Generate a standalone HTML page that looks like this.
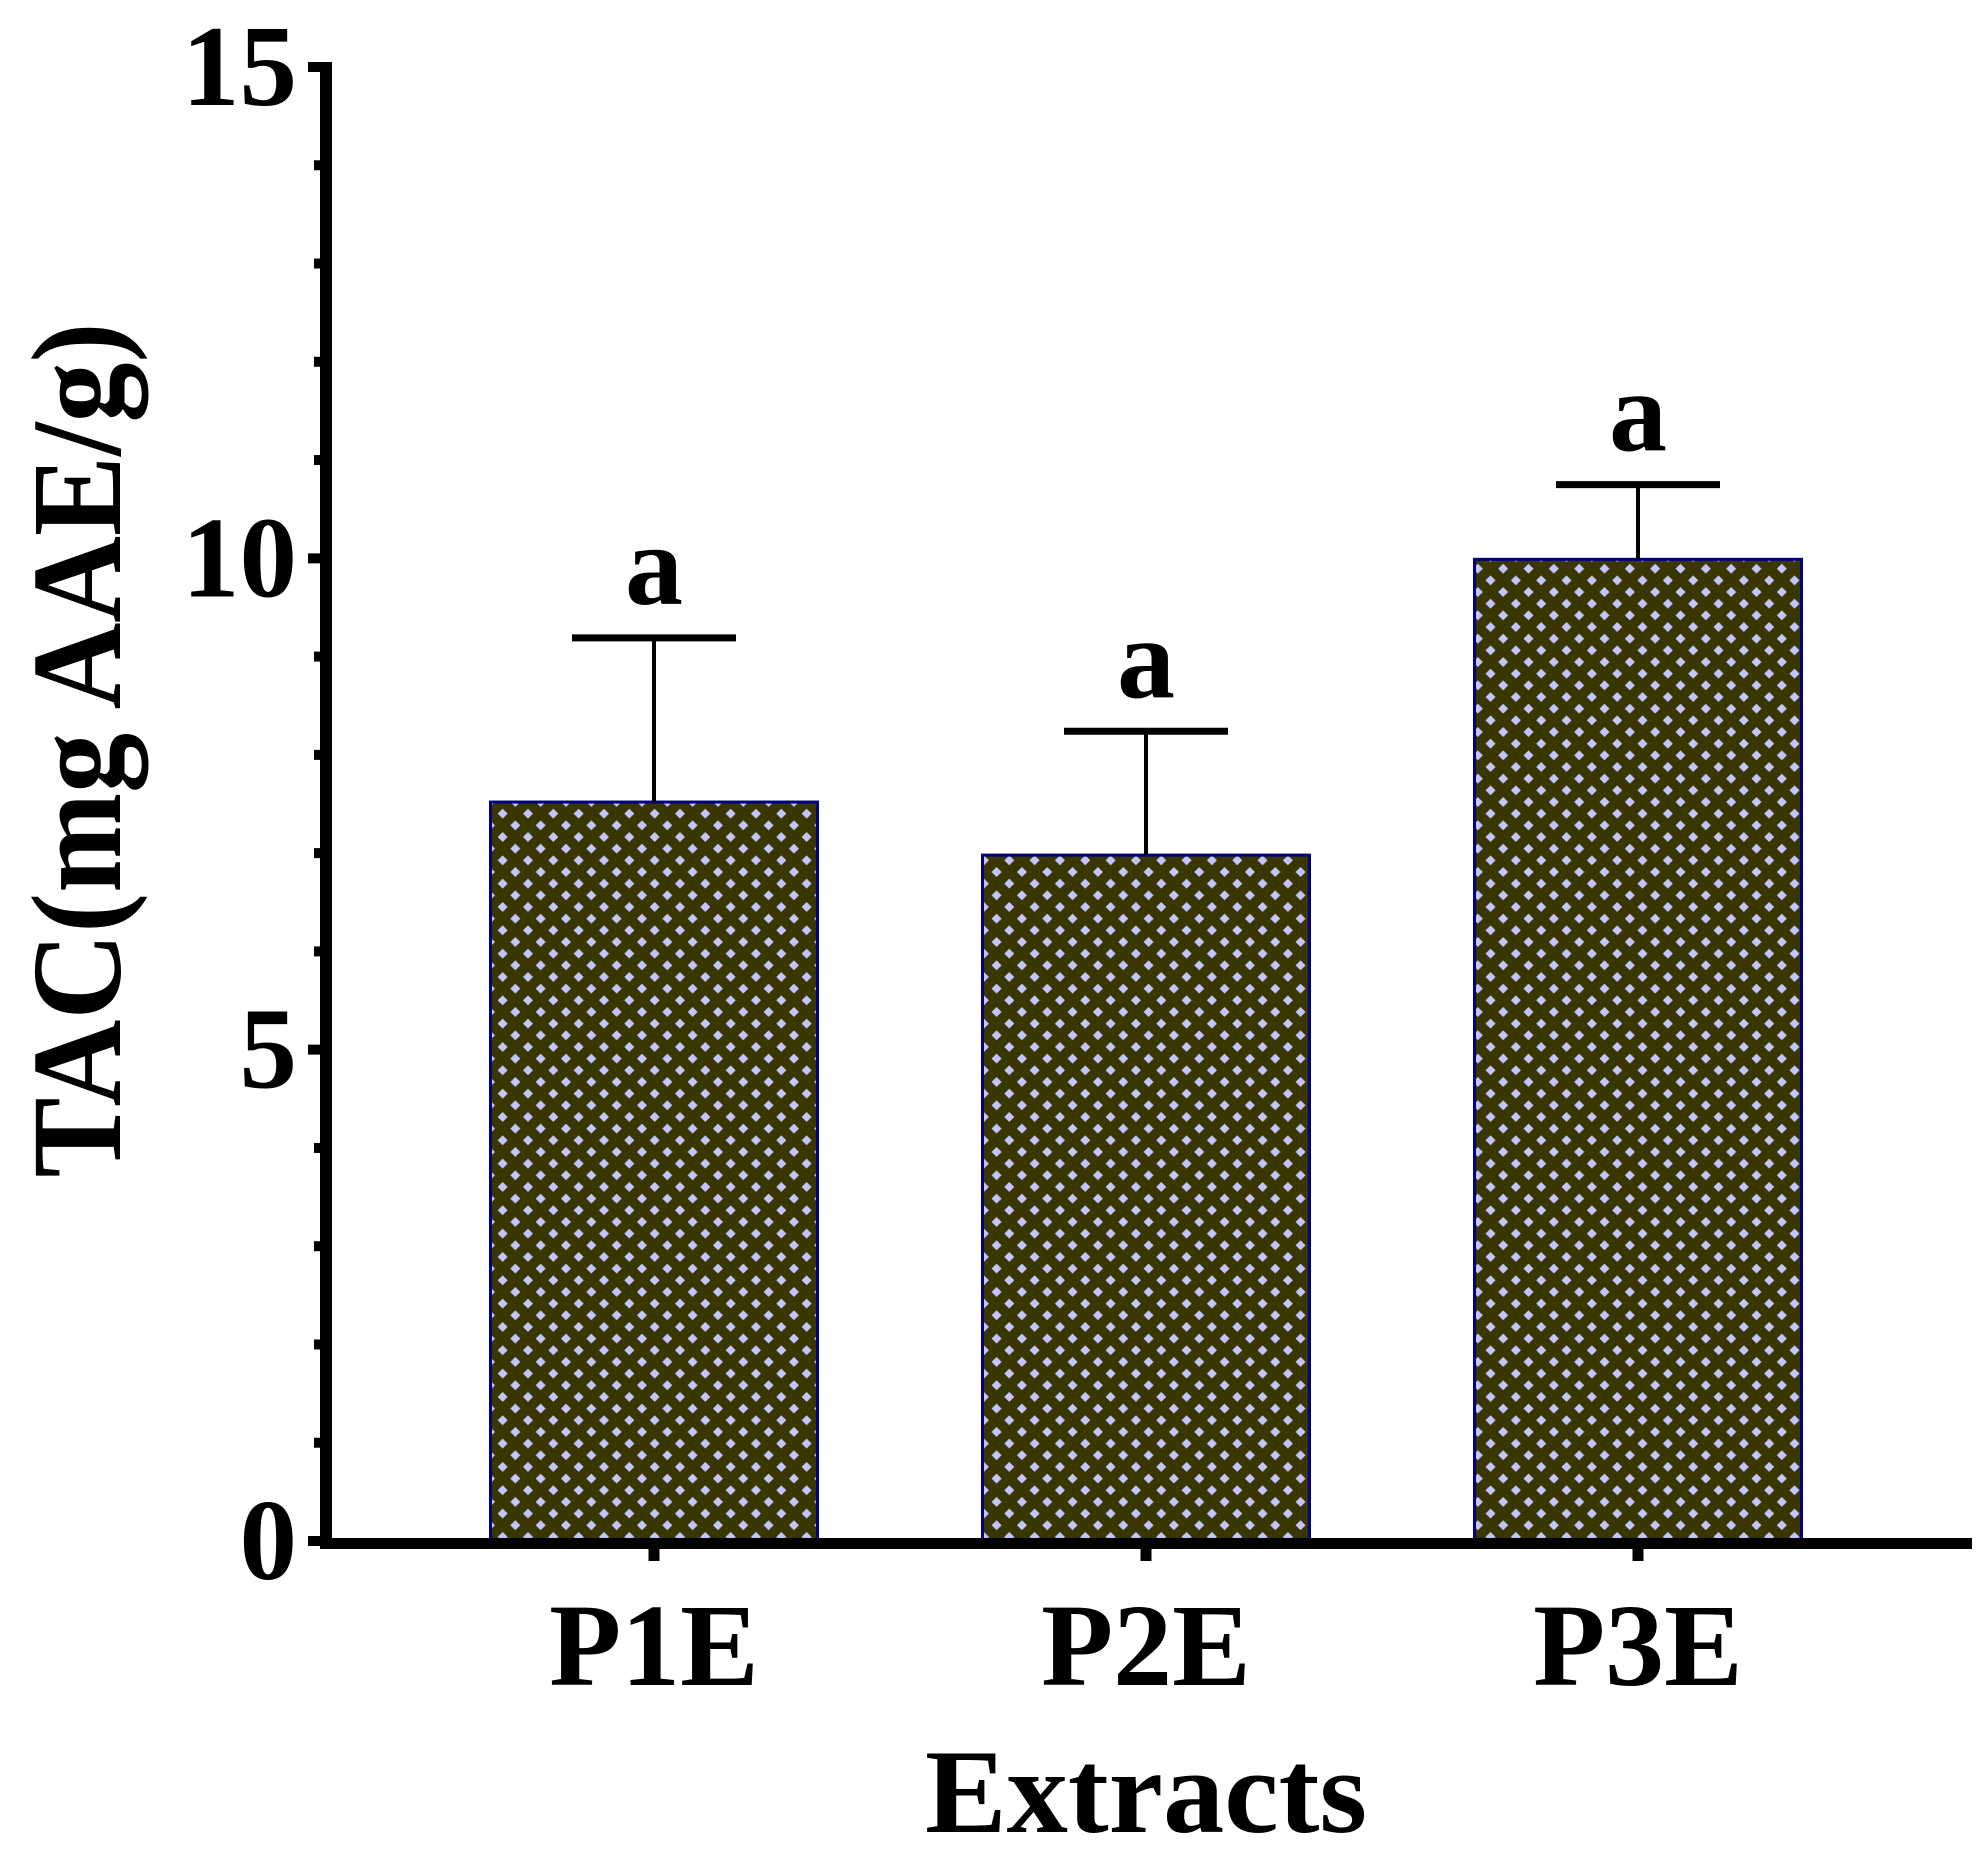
<!DOCTYPE html>
<html><head><meta charset="utf-8"><style>
html,body{margin:0;padding:0;background:#fff;}
svg{display:block;font-family:"Liberation Serif",serif;font-weight:bold;}
</style></head><body>
<svg id="chart" width="1987" height="1864" viewBox="0 0 1987 1864" xmlns="http://www.w3.org/2000/svg">
<defs>
<pattern id="diamonds" patternUnits="userSpaceOnUse" width="25.33" height="23.33" x="490" y="802">
<rect width="25.33" height="23.33" fill="#3a3600"/>
<g fill="#c4c4ff">
<polygon points="0,-5 5,0 0,5 -5,0"/>
<polygon points="25.33,-5 30.33,0 25.33,5 20.33,0"/>
<polygon points="0,18.33 5,23.33 0,28.33 -5,23.33"/>
<polygon points="25.33,18.33 30.33,23.33 25.33,28.33 20.33,23.33"/>
<polygon points="12.67,6.67 17.67,11.67 12.67,16.67 7.67,11.67"/>
</g>
</pattern>
</defs>
<g id="bars"></g>
<g id="errors"></g>
<g id="yaxis"></g>
<g id="xaxis"></g>
<text x="0" y="0" font-size="128" text-anchor="middle" textLength="855" lengthAdjust="spacingAndGlyphs" transform="translate(120,750) rotate(-90)">TAC(mg AAE/g)</text>
<text x="1146" y="1832" font-size="120" text-anchor="middle" textLength="442" lengthAdjust="spacingAndGlyphs">Extracts</text>
</svg>
<script>
const categories = ["P1E", "P2E", "P3E"];
const values = [7.52, 6.98, 9.99];
const errors = [1.67, 1.26, 0.76];
const sigLetters = ["a", "a", "a"];
const yTicks = [0, 5, 10, 15];
const yMax = 15;

const NS = "http://www.w3.org/2000/svg";
const y0 = 1541, y15 = 67;
const yScale = v => y0 - (y0 - y15) * v / yMax;
const bandStart = 327, bandW = 492;
const xCenter = i => 654 + i * bandW;
const barW = 327;
function mk(tag, attrs, parent) {
  const el = document.createElementNS(NS, tag);
  for (const k in attrs) el.setAttribute(k, attrs[k]);
  parent.appendChild(el);
  return el;
}
const gB = document.getElementById('bars');
const gE = document.getElementById('errors');
const gY = document.getElementById('yaxis');
const gX = document.getElementById('xaxis');

categories.forEach((c, i) => {
  const cx = xCenter(i), top = yScale(values[i]);
  const r = mk('rect', {x: cx - barW / 2, y: top, width: barW, height: y0 - top, fill: 'url(#diamonds)', stroke: '#000080', 'stroke-width': 3}, gB);
  
  
  const et = yScale(values[i] + errors[i]);
  const v = mk('line', {x1: cx, x2: cx, y1: top, y2: et, stroke: '#000', 'stroke-width': 4}, gE);
  
  
  const cap = mk('line', {x1: cx - 82, x2: cx + 82, y1: et, y2: et, stroke: '#000', 'stroke-width': 7}, gE);
  
  
  const t = mk('text', {x: cx, y: et - 34, 'font-size': 116, 'text-anchor': 'middle'}, gE);
  t.textContent = sigLetters[i];
  
  
  const tk = mk('line', {x1: cx, x2: cx, y1: y0, y2: 1561, stroke: '#000', 'stroke-width': 11}, gX);
  
  
  const lb = mk('text', {x: cx, y: 1685, 'font-size': 118, 'text-anchor': 'middle'}, gX);
  lb.textContent = c;
  
  
});

for (let v = 0; v <= yMax; v++) {
  const major = yTicks.includes(v);
  const tk = mk('line', {x1: major ? 308 : 314, x2: 326, y1: yScale(v), y2: yScale(v), stroke: '#000', 'stroke-width': 10}, gY);
  
  
}
yTicks.forEach(v => {
  const t = mk('text', {x: 297, y: yScale(v) + 38, 'font-size': 115, 'text-anchor': 'end'}, gY);
  t.textContent = v;
  
  
});
const ya = mk('line', {x1: 326, x2: 326, y1: 62, y2: 1549, stroke: '#000', 'stroke-width': 12}, gY);


const xa = mk('line', {x1: 320, x2: 1972, y1: 1543.5, y2: 1543.5, stroke: '#000', 'stroke-width': 11}, gX);


</script>
</body></html>
